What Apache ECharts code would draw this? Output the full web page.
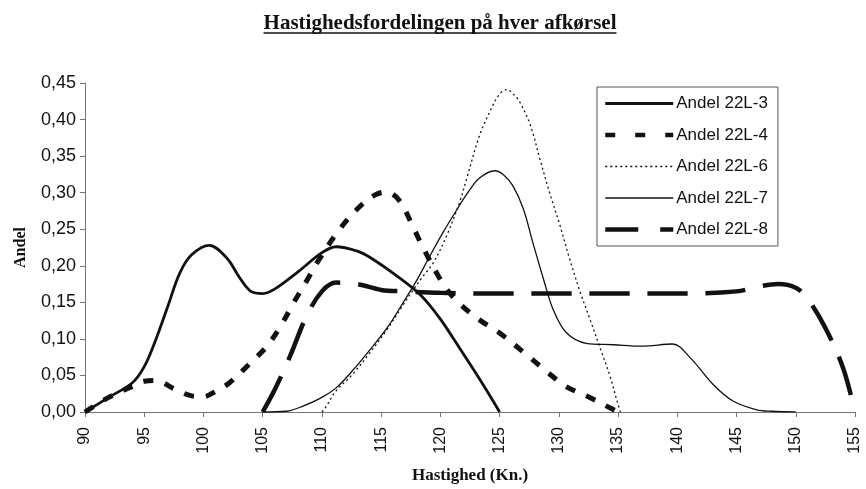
<!DOCTYPE html>
<html>
<head>
<meta charset="utf-8">
<script src="https://cdn.jsdelivr.net/npm/echarts@6/dist/echarts.min.js"></script>
<style>
html,body{margin:0;padding:0;background:#fff;}
#chart{width:866px;height:489px;}
</style>
</head>
<body>
<div id="chart"></div>
<script>
// ---- data ----
var titleText = 'Hastighedsfordelingen på hver afkørsel';
var xName = 'Hastighed (Kn.)';
var yName = 'Andel';
var seriesNames = ['Andel 22L-3', 'Andel 22L-4', 'Andel 22L-6', 'Andel 22L-7', 'Andel 22L-8'];

var speed3 = [90, 92, 94, 95, 96, 97, 98, 99, 100.5, 102, 103, 104, 105, 106, 108, 110, 111.2, 113, 114, 116, 118, 119, 120, 121, 122, 123, 124, 125];
var share3 = [0, 0.02, 0.04, 0.062, 0.10, 0.145, 0.19, 0.215, 0.228, 0.21, 0.185, 0.165, 0.162, 0.168, 0.192, 0.218, 0.226, 0.22, 0.212, 0.19, 0.165, 0.148, 0.127, 0.103, 0.078, 0.053, 0.027, 0];

var speed4 = [90, 92, 94, 95, 96, 97.5, 99, 100, 101, 102.2, 103.9, 105.3, 106.5, 107.6, 108.7, 109.7, 111.5, 113.2, 114.5, 115.4, 116.5, 117.7, 118.5, 120.2, 121.5, 123.3, 125, 127.3, 129, 130.6, 132.6, 134.4, 135];
var share4 = [0, 0.02, 0.035, 0.042, 0.043, 0.032, 0.022, 0.021, 0.028, 0.04, 0.066, 0.089, 0.117, 0.149, 0.179, 0.207, 0.25, 0.281, 0.297, 0.301, 0.29, 0.253, 0.226, 0.176, 0.15, 0.126, 0.108, 0.078, 0.055, 0.035, 0.02, 0.005, 0];

var speed6 = [110, 110.3, 111.2, 112.5, 114, 115.5, 116.8, 117.7, 118.5, 119.4, 120.5, 121.6, 122.2, 123.3, 124.3, 125, 125.6, 126.2, 126.7, 127.6, 128.4, 129.2, 130.1, 130.9, 131.8, 132.6, 133.5, 134.3, 135, 135.2];
var share6 = [0, 0.006, 0.029, 0.05, 0.08, 0.113, 0.145, 0.167, 0.185, 0.204, 0.24, 0.286, 0.318, 0.378, 0.415, 0.435, 0.441, 0.434, 0.424, 0.392, 0.346, 0.301, 0.255, 0.21, 0.164, 0.128, 0.087, 0.05, 0.01, 0];

var speed7 = [105, 107, 108.4, 110, 111.2, 112.5, 114, 115.5, 116.8, 118, 119.1, 120.2, 121.4, 122.4, 123.3, 124.6, 125.3, 126.1, 127, 127.8, 128.7, 129.5, 130.6, 132.3, 134.6, 137, 139.6, 141.1, 143, 144.7, 146.7, 148, 150];
var share7 = [0, 0.001, 0.008, 0.02, 0.033, 0.055, 0.084, 0.115, 0.148, 0.18, 0.213, 0.245, 0.277, 0.302, 0.32, 0.33, 0.325, 0.31, 0.278, 0.232, 0.182, 0.141, 0.109, 0.094, 0.092, 0.09, 0.093, 0.074, 0.038, 0.015, 0.003, 0.001, 0];

var speed8 = [105, 106, 107.3, 108.7, 110, 111.2, 113, 115, 117, 120, 125, 130, 135, 140, 145, 147, 148.5, 150, 151, 152.5, 154, 155];
var share8 = [0, 0.03, 0.076, 0.131, 0.165, 0.177, 0.175, 0.167, 0.165, 0.163, 0.162, 0.162, 0.162, 0.162, 0.165, 0.172, 0.175, 0.17, 0.155, 0.115, 0.06, 0];

var xMin = 90, xMax = 155, xStep = 5;
var yMin = 0, yMax = 0.45, yStep = 0.05;

function pairs(xs, ys) {
  return xs.map(function (x, i) { return [x, ys[i]]; });
}

var ink = '#111';
var labelFont = '"Liberation Sans", Arial, sans-serif';
var serifFont = '"Liberation Serif", "Times New Roman", serif';

// measure title for underline
var titleSize = 21;
var mc = document.createElement('canvas').getContext('2d');
mc.font = 'bold ' + titleSize + 'px ' + serifFont;
var titleW = mc.measureText(titleText).width;
var titleCx = 440;
var titleLeft = titleCx - titleW / 2;
var titleTop = 13;

var styles = [
  { width: 2.8, type: 'solid' },
  { width: 5, type: [10, 12] },
  { width: 1.3, type: [2, 3] },
  { width: 1.3, type: 'solid' },
  { width: 4.5, type: [40, 18] }
];
var legendDash = ['solid', [10, 20], [2, 3], 'solid', [33, 22]];
var datasets = [
  pairs(speed3, share3),
  pairs(speed4, share4),
  pairs(speed6, share6),
  pairs(speed7, share7),
  pairs(speed8, share8)
];

var series = seriesNames.map(function (name, i) {
  return {
    name: name,
    type: 'line',
    data: datasets[i],
    smooth: 0.35,
    showSymbol: false,
    symbol: 'none',
    lineStyle: { color: ink, width: styles[i].width, type: styles[i].type },
    itemStyle: { color: ink },
    z: 2 + i
  };
});

var legendData = seriesNames.map(function (name, i) {
  return {
    name: name,
    itemStyle: { opacity: 0 },
    lineStyle: { color: ink, width: Math.min(styles[i].width, 4.5), type: legendDash[i] }
  };
});

var chart = echarts.init(document.getElementById('chart'), null, { renderer: 'canvas' });
chart.setOption({
  backgroundColor: '#fff',
  animation: false,
  title: {
    text: titleText,
    left: titleLeft,
    top: titleTop,
    padding: 0,
    textStyle: { fontFamily: serifFont, fontWeight: 'bold', fontSize: titleSize, color: ink }
  },
  graphic: [{
    type: 'line',
    shape: { x1: titleLeft, y1: 33, x2: titleLeft + titleW, y2: 33 },
    style: { stroke: ink, lineWidth: 1.5 }
  }],
  legend: {
    orient: 'vertical',
    left: 597,
    top: 87,
    padding: [8, 10, 8, 6],
    itemWidth: 68,
    itemHeight: 14,
    itemGap: 14.5,
    borderColor: '#555',
    borderWidth: 1,
    itemStyle: { opacity: 0 },
    textStyle: { fontFamily: labelFont, fontSize: 17, color: ink, padding: [0, 0, 0, -2] },
    data: legendData
  },
  grid: { left: 85, right: 11, top: 83, bottom: 77, containLabel: false },
  xAxis: {
    type: 'value',
    min: xMin, max: xMax, interval: xStep,
    name: xName,
    nameLocation: 'middle',
    nameGap: 55,
    nameTextStyle: { fontFamily: serifFont, fontWeight: 'bold', fontSize: 17, color: ink },
    axisLine: { show: true, lineStyle: { color: '#777', width: 1 } },
    axisTick: { show: true, length: 5, lineStyle: { color: '#777' } },
    axisLabel: { rotate: 90, margin: 15, fontFamily: labelFont, fontSize: 16, color: ink },
    splitLine: { show: false }
  },
  yAxis: {
    type: 'value',
    min: yMin, max: yMax, interval: yStep,
    name: yName,
    nameLocation: 'middle',
    nameGap: 56,
    nameTextStyle: { fontFamily: serifFont, fontWeight: 'bold', fontSize: 16, color: ink },
    axisLine: { show: true, lineStyle: { color: '#777', width: 1 } },
    axisTick: { show: true, length: 5, lineStyle: { color: '#777' } },
    axisLabel: {
      margin: 9, fontFamily: labelFont, fontSize: 18, color: ink,
      formatter: function (v) { return v.toFixed(2).replace('.', ','); }
    },
    splitLine: { show: false }
  },
  series: series
});
</script>
</body>
</html>
